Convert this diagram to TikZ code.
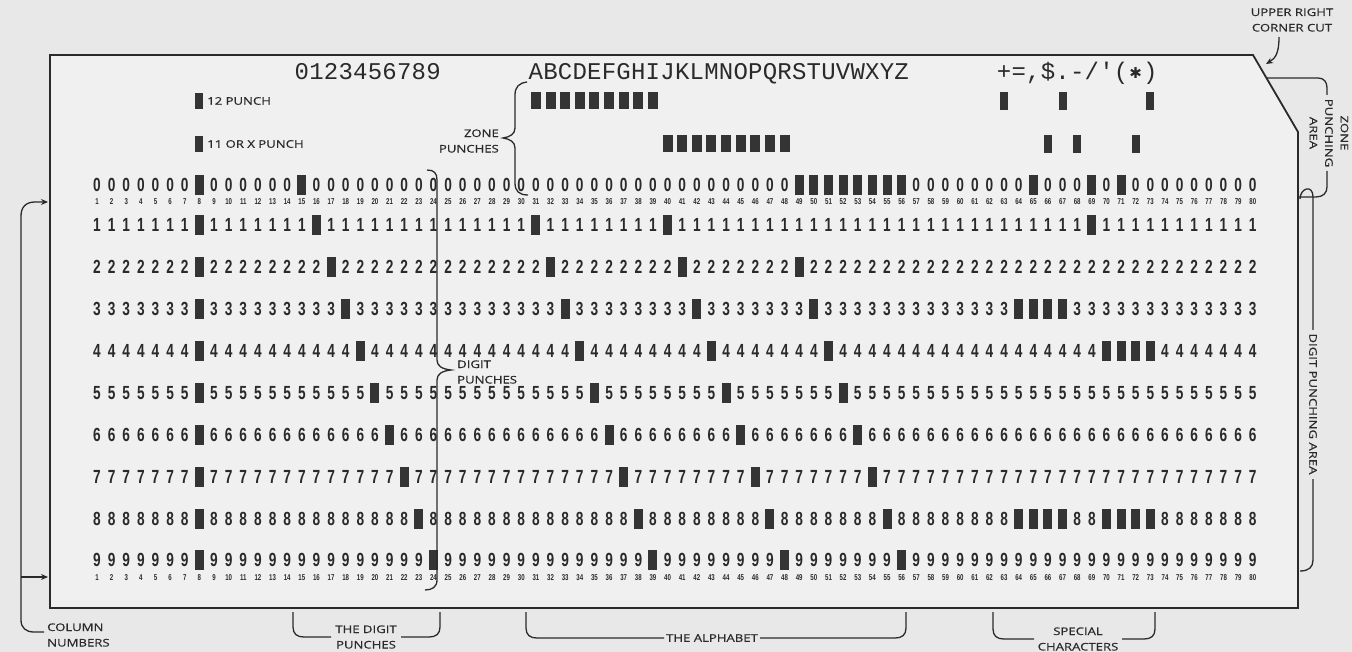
\documentclass[tikz,border=0pt]{standalone}
\usepackage{fontspec}
\usetikzlibrary{arrows.meta}
\newfontfamily\labfont[FakeStretch=1.25,FakeBold=0.6]{Open Sans}
\newfontfamily\digfont[FakeStretch=0.72]{Liberation Sans}
\newfontfamily\prfont{Liberation Mono}
\newfontfamily\djvfont{DejaVu Sans}
\definecolor{bgc}{RGB}{232,232,232}
\definecolor{cardc}{RGB}{240,240,240}
\definecolor{ink}{RGB}{42,42,42}
\definecolor{punchc}{RGB}{52,52,52}
\newcommand\setholes[2]{\foreach \c in {#2}{\expandafter\gdef\csname pch-#1-\c\endcsname{}}}
\setholes{0}{8,15,49,50,51,52,53,54,55,56,65,69,71}
\setholes{1}{8,16,31,40,69}
\setholes{2}{8,17,32,41,49}
\setholes{3}{8,18,33,42,50,64,65,66,67}
\setholes{4}{8,19,34,43,51,70,71,72,73}
\setholes{5}{8,20,35,44,52}
\setholes{6}{8,21,36,45,53}
\setholes{7}{8,22,37,46,54}
\setholes{8}{8,23,38,47,55,64,65,66,67,70,71,72,73}
\setholes{9}{8,24,39,48,56}
\tikzset{
  dig/.style={font=\fontsize{19}{19}\selectfont\digfont\bfseries, text=ink, inner sep=0pt, anchor=base},
  cnum/.style={font=\fontsize{8.5}{8.5}\selectfont\digfont\bfseries, text=ink, inner sep=0pt, anchor=base},
  prn/.style={font=\fontsize{24}{24}\selectfont\prfont, text=ink, inner sep=0pt, anchor=base},
  lab/.style={font=\fontsize{10.5}{15.5}\selectfont\labfont, text=ink, inner sep=0pt, align=center},
  brk/.style={draw=ink, line width=1.3pt},
  hole/.style={fill=punchc},
}
\begin{document}
\begin{tikzpicture}[x=1pt,y=-1pt]
\fill[bgc] (0,0) rectangle (1352,652);
\useasboundingbox (0,0) rectangle (1352,652);
% card
\draw[line width=1.8pt, draw=ink, fill=cardc] (50,55) -- (1253,55) -- (1298,132) -- (1298,608) -- (50,608) -- cycle;
\draw[line width=2.8pt, draw=ink] (50,55) -- (1253,55);
% printed characters at the top
\foreach \ch [count=\i from 15] in {0,1,2,3,4,5,6,7,8,9}
  {\node[prn] (t-\i) at ({97+(\i-1)*14.63},80) {\ch};}
\foreach \ch [count=\i from 31] in {A,B,C,D,E,F,G,H,I,J,K,L,M,N,O,P,Q,R,S,T,U,V,W,X,Y,Z}
  {\node[prn] (t-\i) at ({97+(\i-1)*14.63},80) {\ch};}
\node[prn] (t-63) at ({97+62*14.63},80) {+};
\node[prn] (t-64) at ({97+63*14.63},80) {=};
\node[prn] (t-65) at ({97+64*14.63},80) {,};
\node[prn] (t-66) at ({97+65*14.63},80) {\$};
\node[prn] (t-67) at ({97+66*14.63},80) {.};
\node[prn] (t-68) at ({97+67*14.63},80) {-};
\node[prn] (t-69) at ({97+68*14.63},80) {/};
\node[prn] (t-70) at ({97+69*14.63},80) {'};
\node[prn] (t-71) at ({97+70*14.63},80) {(};
\node[prn, font=\fontsize{15}{15}\selectfont\djvfont] (t-72) at ({97+71*14.63},79) {✱};
\node[prn] (t-73) at ({97+72*14.63},80) {)};
% zone punches
\foreach \c in {31,32,33,34,35,36,37,38,39}
  {\fill[hole] ({97+(\c-1)*14.63-5},92.5) rectangle ++(10,17);}
\foreach \c in {40,41,42,43,44,45,46,47,48}
  {\fill[hole] ({97+(\c-1)*14.63-5},135.5) rectangle ++(10,17);}
\foreach \c in {63,67,73}
  {\fill[hole] ({97+(\c-1)*14.63-4},92) rectangle ++(8,18);}
\foreach \c in {66,68,72}
  {\fill[hole] ({97+(\c-1)*14.63-4},135) rectangle ++(8,18);}
% legend
\fill[hole] (195.4,93) rectangle ++(8,16);
\fill[hole] (195.4,136) rectangle ++(8,16);
\node[lab, anchor=west] (l12) at (207,101) {12 PUNCH};
\node[lab, anchor=west] (l11) at (207,144) {11 OR X PUNCH};
% digit rows
\foreach \r/\ry in {0/185,1/225,2/267,3/309,4/351,5/393,6/435,7/477,8/519,9/560}{
  \foreach \c in {1,...,80}{
    \pgfmathsetmacro\xx{97+(\c-1)*14.63}
    \ifcsname pch-\r-\c\endcsname
      \fill[hole] ({\xx-4.5},{\ry-10}) rectangle ({\xx+4.5},{\ry+10});
    \else
      \node[dig] (d-\r-\c) at (\xx,{\ry+6.8}) {\r};
    \fi
  }
}
% column numbers
\foreach \c in {1,...,80}{
  \pgfmathsetmacro\xx{97+(\c-1)*14.63}
  \node[cnum] (na-\c) at (\xx,205) {\c};
  \node[cnum] (nb-\c) at (\xx,580) {\c};
}
% zone punches brace
\node[lab, anchor=east, align=right] (zp) at (499,141) {ZONE\\PUNCHES};
\draw[brk] (527,82) .. controls (519,83) and (515,87) .. (515,95) -- (515,128)
  .. controls (515,134) and (510,137) .. (503,138)
  .. controls (510,139) and (515,142) .. (515,148) -- (515,183)
  .. controls (515,191) and (519,195) .. (528,195);
% digit punches brace
\node[lab, anchor=west, align=left] (dp) at (457,372) {DIGIT\\PUNCHES};
\draw[brk] (427,170) .. controls (434,170) and (437,173) .. (437,180) -- (437,360)
  .. controls (437,366) and (442,369) .. (451,370)
  .. controls (442,371) and (437,374) .. (437,380) -- (437,580)
  .. controls (437,587) and (432,590) .. (425,590);
% upper right corner cut
\node[lab] (urc) at (1292,20) {UPPER RIGHT\\CORNER CUT};
\draw[brk, -{Stealth[length=7pt,width=6pt]}] (1279,37) .. controls (1279,52) and (1276,58) .. (1266,64);
% zone punching area
\node[lab, rotate=-90] (zpa) at (1329,133) {ZONE\\PUNCHING\\AREA};
\draw[brk] (1266,78) -- (1318,78) .. controls (1324,78) and (1327,82) .. (1327,88) -- (1327,95);
\draw[brk] (1327,171) -- (1327,187) .. controls (1327,193) and (1323,197) .. (1316,197) -- (1299,197);
% digit punching area
\node[lab, rotate=-90] (dpa) at (1313,404) {DIGIT PUNCHING AREA};
\draw[brk] (1300,199) .. controls (1300,188) and (1313,184) .. (1313,197) -- (1313,330);
\draw[brk] (1313,479) -- (1313,560) .. controls (1313,567) and (1309,571) .. (1300,571);
% column numbers bracket
\node[lab, anchor=west, align=left] (cn) at (47,635) {COLUMN\\NUMBERS};
\draw[brk, -{Stealth[length=7pt,width=6pt]}] (21,216) .. controls (21,207) and (26,202) .. (35,202) -- (48,202);
\draw[brk] (21,216) -- (21,620) .. controls (21,628) and (26,632) .. (34,632) -- (44,632);
\draw[brk, -{Stealth[length=7pt,width=6pt]}] (21,577) -- (48,577);
% bottom brackets
\node[lab] (tdp) at (366,637) {THE DIGIT\\PUNCHES};
\draw[brk] (293,612) -- (293,627) .. controls (293,634) and (297,637) .. (304,637) -- (331,637);
\draw[brk] (401,637) -- (429,637) .. controls (436,637) and (440,634) .. (440,627) -- (440,612);
\node[lab] (alp) at (712,638) {THE ALPHABET};
\draw[brk] (526,612) -- (526,628) .. controls (526,635) and (530,638) .. (537,638) -- (664,638);
\draw[brk] (760,638) -- (895,638) .. controls (902,638) and (906,635) .. (906,628) -- (906,612);
\node[lab] (spc) at (1078,639) {SPECIAL\\CHARACTERS};
\draw[brk] (993,612) -- (993,629) .. controls (993,636) and (997,639) .. (1004,639) -- (1034,639);
\draw[brk] (1122,639) -- (1144,639) .. controls (1151,639) and (1155,636) .. (1155,629) -- (1155,612);
\end{tikzpicture}
\end{document}
